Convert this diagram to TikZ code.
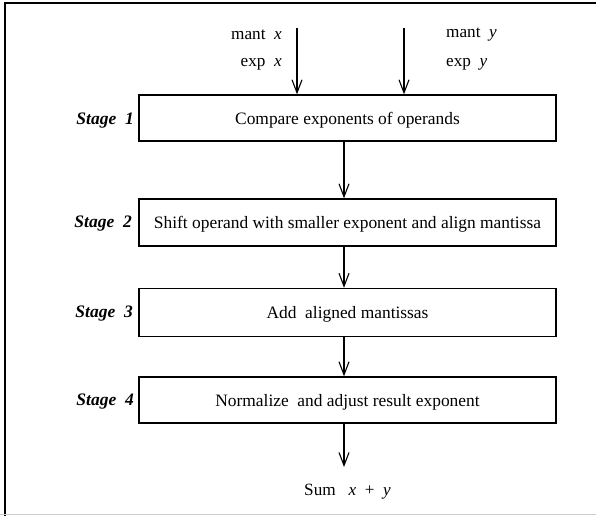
\documentclass[tikz,border=0pt]{standalone}
\usepackage{fontspec}
\setmainfont{Liberation Serif}
\usetikzlibrary{arrows.meta}
\begin{document}
\begin{tikzpicture}[x=1pt,y=-1pt,
  stagebox/.style={draw, line width=1.4pt, minimum width=417pt, inner sep=0pt, text depth=0pt},
  stagelbl/.style={anchor=east, font=\fontsize{17.5}{20}\selectfont\bfseries\itshape, inner sep=0pt},
  io/.style={font=\fontsize{17.2}{20}\selectfont, inner sep=0pt},
  arr/.style={line width=1.1pt, -{Straight Barb[length=13pt,width=10pt,line width=1.1pt]}},
  main font/.style={font=\fontsize{17.4}{20}\selectfont}]
  \useasboundingbox (0,0) rectangle (596,516);
  % page frame
  \draw[line width=2pt] (596,3) -- (5,3) -- (5,516);
  \draw[line width=0.8pt, black!20] (0,514) -- (596,514);

  % pipeline stages
  \node[stagebox, main font, minimum height=46pt] (b1) at (347.5,118) {Compare exponents of operands};
  \node[stagebox, main font, minimum height=47pt] (b2) at (347.5,222.5) {Shift operand with smaller exponent and align mantissa};
  \node[stagebox, main font, minimum height=48pt] (b3) at (347.5,312.5) {Add\ \ aligned mantissas};
  \node[stagebox, main font, minimum height=46pt] (b4) at (347.5,400) {Normalize\ \ and adjust result exponent};

  \node[stagelbl] (s1) at (134,121) {Stage\ \ 1};
  \node[stagelbl] (s2) at (132,224) {Stage\ \ 2};
  \node[stagelbl] (s3) at (133,314) {Stage\ \ 3};
  \node[stagelbl] (s4) at (134,402) {Stage\ \ 4};

  % operand inputs
  \coordinate (inx) at (297,28);
  \coordinate (iny) at (404,28);
  \node[io, anchor=east] (mx) at (282,35) {mant\ \ \textit{x}};
  \node[io, anchor=east] (ex) at (282,64) {exp\ \ \textit{x}};
  \node[io, anchor=west] (my) at (446,35) {mant\ \ \textit{y}};
  \node[io, anchor=west] (ey) at (446,64) {exp\ \ \textit{y}};
  \draw[arr] (inx) -- (b1.north -| inx);
  \draw[arr] (iny) -- (b1.north -| iny);

  % flow between stages
  \coordinate (mid) at (344,0);
  \draw[arr] (b1.south -| mid) -- (b2.north -| mid);
  \draw[arr] (b2.south -| mid) -- (b3.north -| mid);
  \draw[arr] (b3.south -| mid) -- (b4.north -| mid);
  \coordinate (outp) at (344,467);
  \draw[arr] (b4.south -| mid) -- (outp);

  % result
  \node[io] (sum) at (347.5,492) {Sum\ \ \ \textit{x}\ \ +\ \ \textit{y}};
\end{tikzpicture}
\end{document}
